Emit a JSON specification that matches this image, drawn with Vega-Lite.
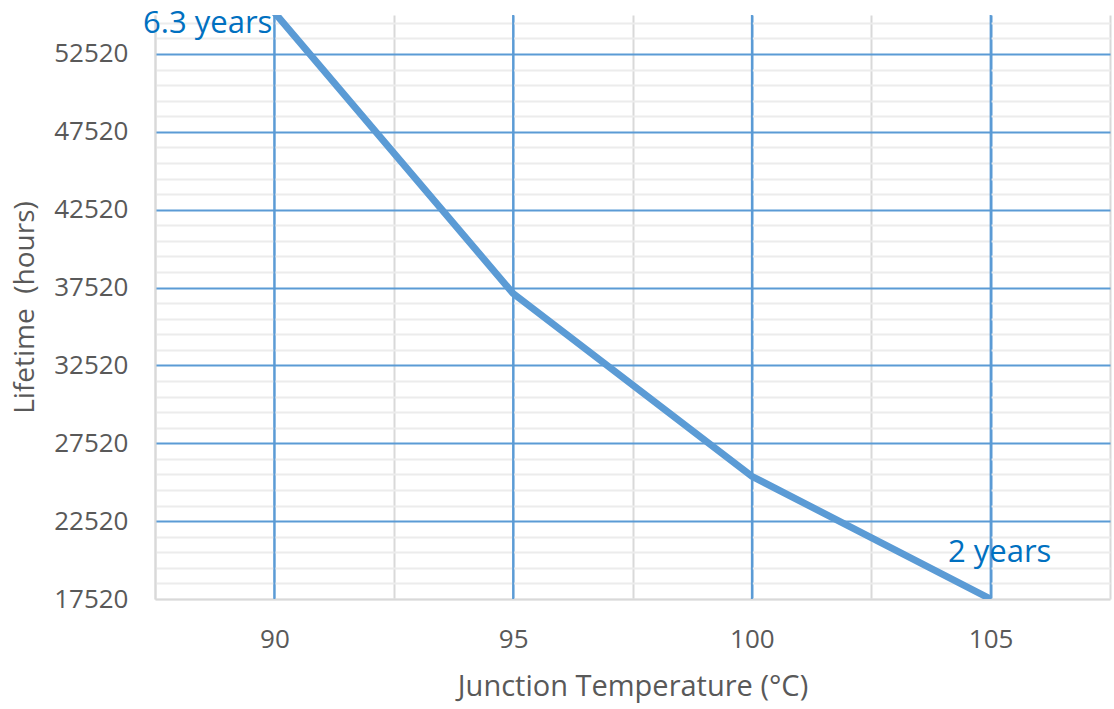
{
  "$schema": "https://vega.github.io/schema/vega-lite/v6.json",
  "width": 955,
  "height": 584,
  "autosize": {"type": "none"},
  "padding": {"left": 155, "top": 15, "right": 4, "bottom": 110},
  "background": "white",
  "config": {"view": {"stroke": null}, "font": "Open Sans"},
  "data": {
    "values": [
      {"temp": 90, "hours": 55188, "label": "6.3 years"},
      {"temp": 95, "hours": 37135, "label": null},
      {"temp": 100, "hours": 25400, "label": null},
      {"temp": 105, "hours": 17520, "label": "2 years"}
    ]
  },
  "layer": [
    {
      "mark": {"type": "rule", "color": "#5B9BD5", "strokeWidth": 2},
      "encoding": {
        "x": {
          "field": "temp",
          "type": "quantitative",
          "scale": {"domain": [87.5, 107.5], "nice": false, "zero": false},
          "axis": {
            "title": "Junction Temperature (°C)",
            "values": [87.5, 90, 92.5, 95, 97.5, 100, 102.5, 105, 107.5],
            "labelExpr": "datum.value % 5 == 0 ? datum.label : ''",
            "labelOverlap": false,
            "labelFlush": false,
            "labelBound": false,
            "labelFont": "Open Sans",
            "labelFontSize": 26,
            "labelColor": "#595959",
            "labelPadding": 27,
            "ticks": false,
            "tickSize": 0,
            "domain": true,
            "domainColor": "#D9D9D9",
            "domainWidth": 2,
            "grid": true,
            "gridColor": {"condition": {"test": "datum.value % 5 == 0", "value": "#5B9BD5"}, "value": "#D9D9D9"},
            "gridWidth": 2,
            "titleFont": "Open Sans",
            "titleFontSize": 29,
            "titleFontWeight": "normal",
            "titleColor": "#595959",
            "titleBaseline": "alphabetic",
            "titleY": 96
          }
        }
      }
    },
    {
      "encoding": {
        "x": {"field": "temp", "type": "quantitative"},
        "y": {
          "field": "hours",
          "type": "quantitative",
          "scale": {"domain": [17520, 55020], "nice": false, "zero": false},
          "axis": {
            "title": "Lifetime\u00a0 (hours)",
            "values": [17520, 18520, 19520, 20520, 21520, 22520, 23520, 24520, 25520, 26520, 27520, 28520, 29520, 30520, 31520, 32520, 33520, 34520, 35520, 36520, 37520, 38520, 39520, 40520, 41520, 42520, 43520, 44520, 45520, 46520, 47520, 48520, 49520, 50520, 51520, 52520, 53520, 54520],
            "format": "d",
            "labelExpr": "(datum.value - 17520) % 5000 == 0 ? datum.label : ''",
            "labelOverlap": false,
            "labelFlush": false,
            "labelBound": false,
            "labelFont": "Open Sans",
            "labelFontSize": 26,
            "labelColor": "#595959",
            "labelPadding": 27,
            "ticks": false,
            "tickSize": 0,
            "domain": true,
            "domainColor": "#D9D9D9",
            "domainWidth": 2,
            "grid": true,
            "gridColor": {"condition": {"test": "datum.value > 17600 && (datum.value - 17520) % 5000 == 0", "value": "#5B9BD5"}, "value": "#ECECEC"},
            "gridWidth": 2,
            "titleFont": "Open Sans",
            "titleFontSize": 28,
            "titleFontWeight": "normal",
            "titleColor": "#595959",
            "titleBaseline": "alphabetic",
            "titleAngle": -90,
            "titleX": -122,
            "titleY": 292
          }
        }
      },
      "layer": [
        {"mark": {"type": "line", "color": "#5B9BD5", "strokeWidth": 7, "clip": true}},
        {
          "transform": [{"filter": "datum.temp == 90"}],
          "mark": {"type": "text", "align": "right", "baseline": "alphabetic", "dx": -2, "dy": 21, "fontSize": 31, "font": "Open Sans", "color": "#0070C0"},
          "encoding": {"text": {"field": "label"}}
        },
        {
          "transform": [{"filter": "datum.temp == 105"}],
          "mark": {"type": "text", "align": "center", "baseline": "alphabetic", "dx": 9, "dy": -37, "fontSize": 31, "font": "Open Sans", "color": "#0070C0"},
          "encoding": {"text": {"field": "label"}}
        }
      ]
    }
  ]
}
